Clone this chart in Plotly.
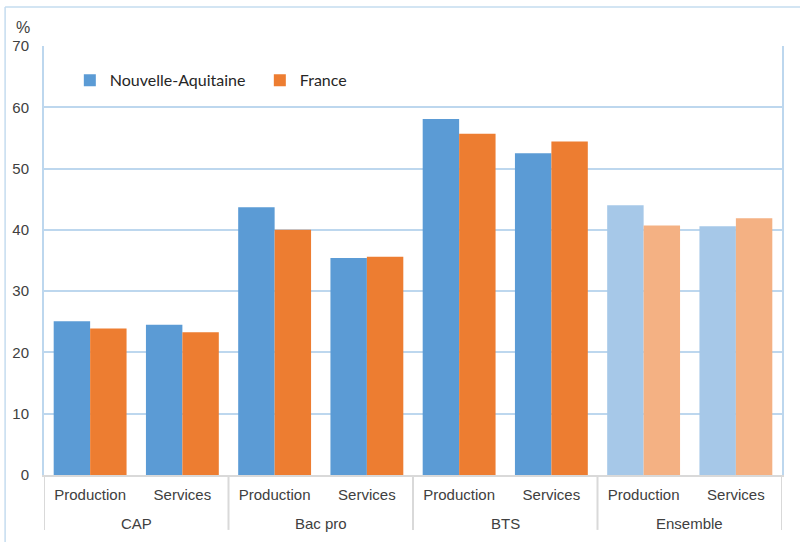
import plotly.graph_objects as go

groups = ["CAP", "Bac pro", "BTS", "Ensemble"]
subs = ["Production", "Services"]
nouvelle_aquitaine = [25.1, 24.5, 43.7, 35.4, 58.1, 52.5, 44.0, 40.6]
france = [23.9, 23.3, 40.0, 35.6, 55.7, 54.4, 40.7, 41.9]
y_ticks = [0, 10, 20, 30, 40, 50, 60, 70]

keys = [f"{g}|{s}" for g in groups for s in subs]
sub_labels = [s for g in groups for s in subs]

na_col = ["#5B9BD5"] * 6 + ["#A6C8E8"] * 2
fr_col = ["#ED7D31"] * 6 + ["#F4B183"] * 2

fig = go.Figure()
fig.add_trace(go.Bar(x=keys, y=nouvelle_aquitaine, name="Nouvelle-Aquitaine",
                     marker=dict(color=na_col, line=dict(width=0))))
fig.add_trace(go.Bar(x=keys, y=france, name="France",
                     marker=dict(color=fr_col, line=dict(width=0))))

annotations = [
    dict(text="%", xref="paper", yref="paper", x=-0.028, y=1.0185, xanchor="center",
         yanchor="bottom", showarrow=False, font=dict(size=16, color="#404040")),
]
shapes = [
    dict(type="line", xref="paper", yref="paper", x0=-0.0527, x1=-0.0527, y0=-0.2, y1=1.091,
         line=dict(color="#C5DCEF", width=1.5)),
    dict(type="line", xref="paper", yref="paper", x0=-0.0527, x1=1.05, y0=1.091, y1=1.091,
         line=dict(color="#C5DCEF", width=1.5)),
]
for i, g in enumerate(groups):
    annotations.append(dict(text=g, xref="x", yref="paper", x=2 * i + 0.5, y=-0.112,
                            xanchor="center", yanchor="middle", showarrow=False,
                            font=dict(size=15, color="#404040")))
for b in range(len(groups) + 1):
    shapes.append(dict(type="line", xref="x", yref="paper", x0=2 * b - 0.5, x1=2 * b - 0.5,
                       y0=0, y1=-0.128, line=dict(color="#D9D9D9", width=2)))

fig.update_layout(
    width=800, height=542,
    margin=dict(l=42, r=18, t=46, b=67),
    paper_bgcolor="white", plot_bgcolor="white",
    barmode="group", bargap=0.21, bargroupgap=0,
    font=dict(family="Liberation Sans, Arial, sans-serif", size=15, color="#404040"),
    showlegend=True,
    legend=dict(orientation="h", x=0.035, y=0.92, xanchor="left", yanchor="middle",
                font=dict(family="Lato, Open Sans, sans-serif", size=16, color="#262626"),
                bgcolor="rgba(0,0,0,0)", itemwidth=30, traceorder="normal",
                entrywidthmode="pixels", entrywidth=145),
    xaxis=dict(type="category", tickvals=keys, ticktext=sub_labels, showgrid=False,
               showline=True, linecolor="#D9D9D9", linewidth=2,
               ticks="outside", ticklen=5, tickcolor="rgba(0,0,0,0)",
               range=[-0.5, 7.5],
               tickfont=dict(size=15, color="#404040")),
    yaxis=dict(range=[0, 70], tickvals=y_ticks, showgrid=True, gridcolor="#BDD7EE", gridwidth=2,
               showline=True, linecolor="#BDD7EE", linewidth=2, mirror=True,
               ticks="outside", ticklen=10, tickcolor="rgba(0,0,0,0)",
               zeroline=False, tickfont=dict(size=15, color="#404040")),
    annotations=annotations,
    shapes=shapes,
)

fig.write_html("out.html")
